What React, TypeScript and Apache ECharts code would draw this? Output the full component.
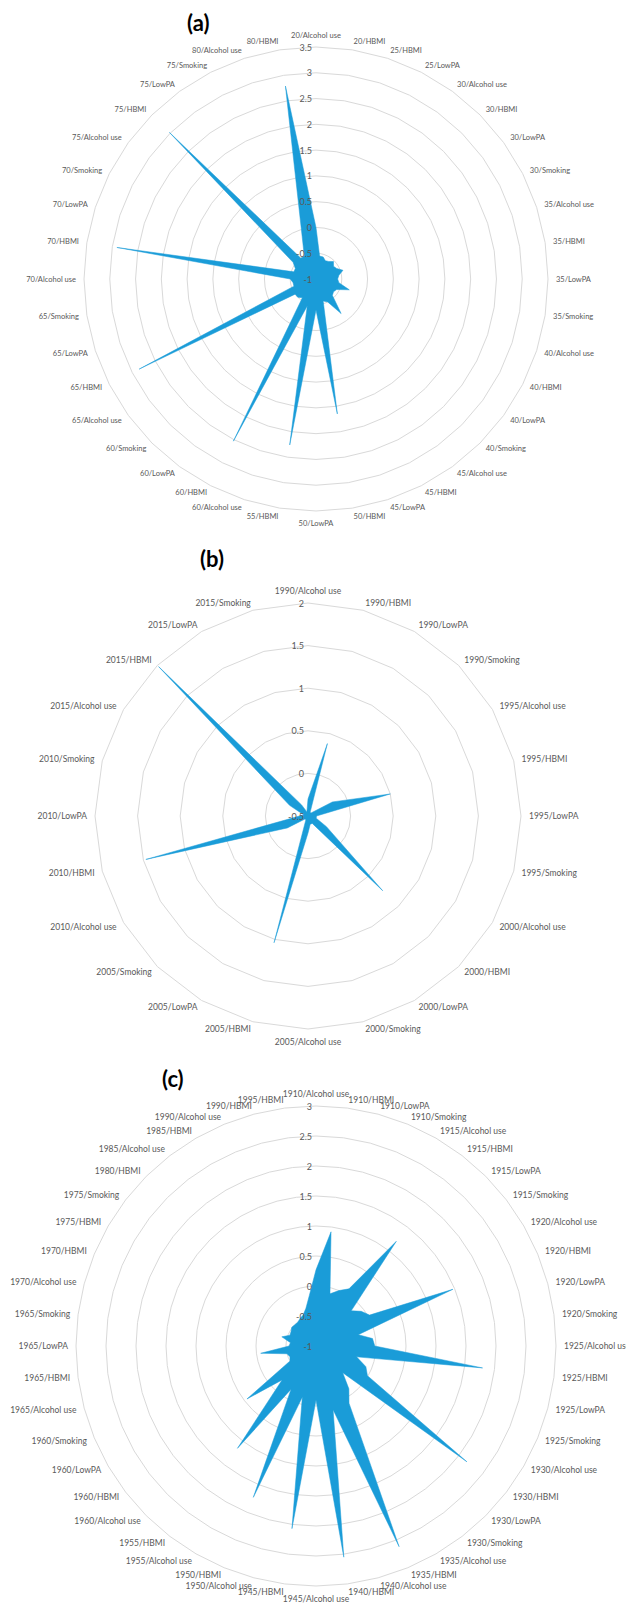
import React, { useEffect, useRef } from 'react';
import * as echarts from 'echarts';

// (a) age groups × risk factor
const A_CATEGORIES = [
  '20/Alcohol use', '20/HBMI', '25/HBMI', '25/LowPA', '30/Alcohol use', '30/HBMI', '30/LowPA', '30/Smoking',
  '35/Alcohol use', '35/HBMI', '35/LowPA', '35/Smoking', '40/Alcohol use', '40/HBMI', '40/LowPA', '40/Smoking',
  '45/Alcohol use', '45/HBMI', '45/LowPA', '50/HBMI', '50/LowPA', '55/HBMI', '60/Alcohol use', '60/HBMI',
  '60/LowPA', '60/Smoking', '65/Alcohol use', '65/HBMI', '65/LowPA', '65/Smoking', '70/Alcohol use', '70/HBMI',
  '70/LowPA', '70/Smoking', '75/Alcohol use', '75/HBMI', '75/LowPA', '75/Smoking', '80/Alcohol use', '80/HBMI',
];
const A_VALUES = [
  0.0, -0.55, -0.55, -0.6, -0.58, -0.52, -0.58, -0.55,
  -0.45, -0.55, -0.58, -0.55, -0.32, -0.55, -0.58, -0.55,
  -0.17, -0.5, -0.55, 1.65, -0.4, 2.26, -0.45, 2.53,
  -0.55, -0.5, -0.5, 2.85, -0.55, -0.55, -0.5, 2.91,
  -0.55, -0.55, -0.45, 3.02, -0.5, -0.5, -0.13, 2.79,
];
const A_MIN = -1;
const A_MAX = 3.5;

// (b) period × risk factor
const B_CATEGORIES = [
  '1990/Alcohol use', '1990/HBMI', '1990/LowPA', '1990/Smoking', '1995/Alcohol use', '1995/HBMI',
  '1995/LowPA', '1995/Smoking', '2000/Alcohol use', '2000/HBMI', '2000/LowPA', '2000/Smoking',
  '2005/Alcohol use', '2005/HBMI', '2005/LowPA', '2005/Smoking', '2010/Alcohol use', '2010/HBMI',
  '2010/LowPA', '2010/Smoking', '2015/Alcohol use', '2015/HBMI', '2015/LowPA', '2015/Smoking',
];
const B_VALUES = [
  -0.3, 0.38, -0.45, -0.45, -0.17, 0.5,
  -0.4, -0.4, -0.25, 0.74, -0.4, -0.4,
  -0.3, 1.04, -0.45, -0.45, -0.22, 1.47,
  -0.4, -0.45, -0.25, 1.98, -0.35, -0.45,
];
const B_MIN = -0.5;
const B_MAX = 2;

// (c) birth cohort × risk factor
const C_CATEGORIES = [
  '1910/Alcohol use', '1910/HBMI', '1910/LowPA', '1910/Smoking', '1915/Alcohol use', '1915/HBMI',
  '1915/LowPA', '1915/Smoking', '1920/Alcohol use', '1920/HBMI', '1920/LowPA', '1920/Smoking',
  '1925/Alcohol use', '1925/HBMI', '1925/LowPA', '1925/Smoking', '1930/Alcohol use', '1930/HBMI',
  '1930/LowPA', '1930/Smoking', '1935/Alcohol use', '1935/HBMI', '1940/Alcohol use', '1940/HBMI',
  '1945/Alcohol use', '1945/HBMI', '1950/Alcohol use', '1950/HBMI', '1955/Alcohol use', '1955/HBMI',
  '1960/Alcohol use', '1960/HBMI', '1960/LowPA', '1960/Smoking', '1965/Alcohol use', '1965/HBMI',
  '1965/LowPA', '1965/Smoking', '1970/Alcohol use', '1970/HBMI', '1975/HBMI', '1975/Smoking',
  '1980/HBMI', '1985/Alcohol use', '1985/HBMI', '1990/Alcohol use', '1990/HBMI', '1995/HBMI',
];
const C_VALUES = [
  0.27, 0.92, -0.1, 0.0, 0.1, 1.2,
  -0.17, -0.05, 0.03, 1.47, -0.27, -0.05,
  -0.02, 1.8, -0.3, -0.1, -0.01, 2.17,
  -0.37, -0.1, 0.1, 2.62, 0.1, 2.55,
  -0.1, 2.07, -0.12, 1.73, -0.17, 1.15,
  -0.2, 0.45, -0.5, -0.53, -0.5, -0.07,
  -0.55, -0.57, -0.41, -0.53, -0.52, -0.49,
  -0.5, -0.5, -0.47, -0.44, -0.35, -0.15,
];
const C_MIN = -1;
const C_MAX = 3;

const STEP = 0.5;
const FILL = '#1a9cd8';
const GRID = '#d9d9d9';
const TEXT = '#595959';
const FONT = 'Lato, "Open Sans", sans-serif';

type Panel = {
  title: string;
  titlePos: [number, number];
  center: [number, number];
  radius: number;
  cats: string[];
  values: number[];
  min: number;
  max: number;
  nameSize: number;
};

const PANELS: Panel[] = [
  { title: '(a)', titlePos: [182, 6], center: [316, 279], radius: 232, cats: A_CATEGORIES, values: A_VALUES, min: A_MIN, max: A_MAX, nameSize: 7.5 },
  { title: '(b)', titlePos: [195, 542], center: [308, 816], radius: 213, cats: B_CATEGORIES, values: B_VALUES, min: B_MIN, max: B_MAX, nameSize: 8.5 },
  { title: '(c)', titlePos: [157, 1062], center: [316, 1346], radius: 240, cats: C_CATEGORIES, values: C_VALUES, min: C_MIN, max: C_MAX, nameSize: 8.5 },
];

// Radar indicators run counter-clockwise; keep the first one at the top and
// reverse the rest so the categories read clockwise.
function clockwise<T>(arr: T[]): T[] {
  return [arr[0], ...arr.slice(1).reverse()];
}

export default function App() {
  const ref = useRef<HTMLDivElement>(null);

  useEffect(() => {
    document.body.style.margin = '0';
    if (!ref.current) return;
    const chart = echarts.init(ref.current, undefined, { renderer: 'svg' });

    const option: any = {
      animation: false,
      backgroundColor: '#ffffff',
      title: PANELS.map((p) => ({
        text: p.title,
        left: p.titlePos[0],
        top: p.titlePos[1],
        textStyle: { fontSize: 22, fontWeight: 'bold', color: '#000', fontFamily: FONT },
      })),
      radar: PANELS.map((p) => ({
        center: p.center,
        radius: p.radius,
        startAngle: 90,
        shape: 'polygon',
        splitNumber: Math.round((p.max - p.min) / STEP),
        nameGap: 8,
        indicator: clockwise(p.cats).map((name) => ({ name, min: p.min, max: p.max })),
        axisName: { color: TEXT, fontSize: p.nameSize, fontFamily: FONT },
        axisLine: { show: false },
        axisTick: { show: false },
        splitArea: { show: false },
        splitLine: { lineStyle: { color: GRID, width: 1 } },
      })),
      polar: PANELS.map((p) => ({ center: p.center, radius: p.radius })),
      angleAxis: PANELS.map((_, i) => ({
        polarIndex: i,
        type: 'value',
        min: 0,
        max: 360,
        startAngle: 90,
        show: false,
      })),
      radiusAxis: PANELS.map((p, i) => ({
        polarIndex: i,
        type: 'value',
        min: p.min,
        max: p.max,
        interval: STEP,
        z: 10,
        axisLine: { show: false },
        axisTick: { show: false },
        splitLine: { show: false },
        axisLabel: { show: true, fontSize: 9, color: TEXT, fontFamily: FONT, margin: 4 },
      })),
      series: PANELS.map((p, i) => ({
        type: 'radar',
        radarIndex: i,
        symbol: 'none',
        lineStyle: { color: FILL, width: 0.5 },
        areaStyle: { color: FILL, opacity: 1 },
        data: [{ value: clockwise(p.values), name: p.title }],
      })),
    };

    chart.setOption(option);
    return () => chart.dispose();
  }, []);

  return <div ref={ref} style={{ width: 626, height: 1605 }} />;
}
